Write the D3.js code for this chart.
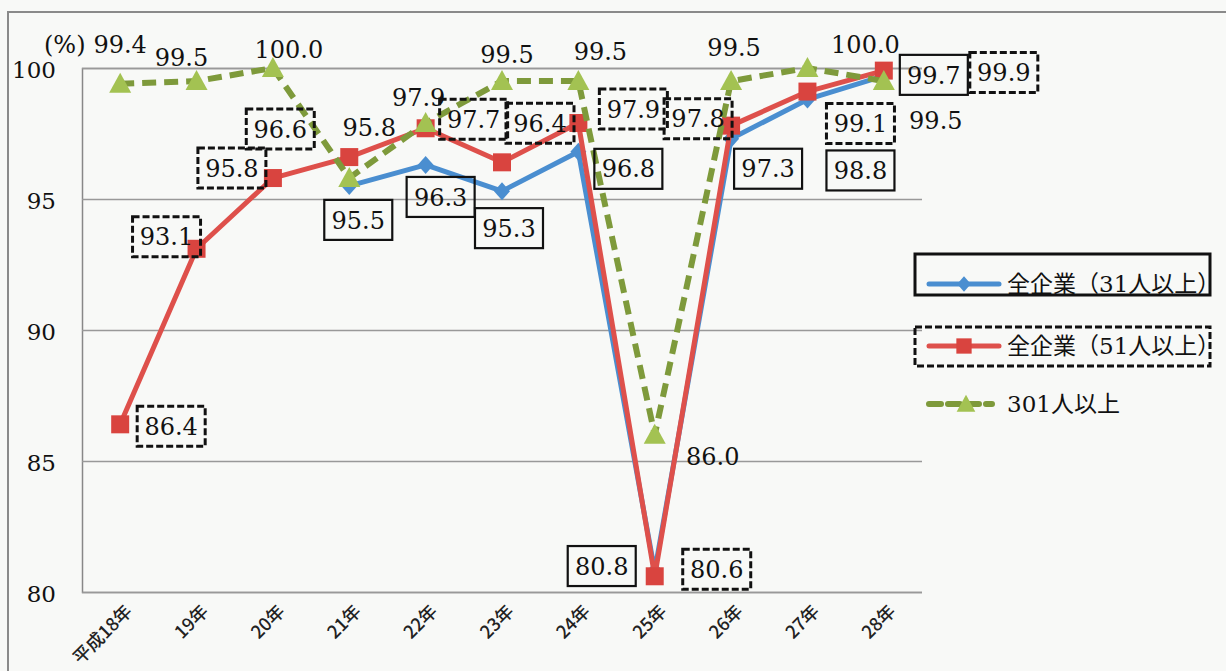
<!DOCTYPE html>
<html><head><meta charset="utf-8">
<script src="https://cdn.jsdelivr.net/npm/d3@7"></script>
<style>body{margin:0;background:#f8f9f7;} svg{display:block}
.sf{font-family:"DejaVu Serif","Liberation Serif",serif;}
.cj{font-family:"DejaVu Serif","Noto Sans CJK JP",serif;}
.xl{font-family:"Noto Sans CJK JP",sans-serif;}
</style>
</head><body><svg id="c" width="1226" height="671"></svg>
<script>
// ---- data ----
const categories = ["平成18年","19年","20年","21年","22年","23年","24年","25年","26年","27年","28年"];
const all31   = [null,null,null,95.5,96.3,95.3,96.8,80.8,97.3,98.8,99.7];
const all51   = [86.4,93.1,95.8,96.6,97.7,96.4,97.9,80.6,97.8,99.1,99.9];
const over301 = [99.4,99.5,100.0,95.8,97.9,99.5,99.5,86.0,99.5,100.0,99.5];
const yTicks = [80,85,90,95,100];
const seriesNames = ["全企業（31人以上）","全企業（51人以上）","301人以上"];
const unitLabel = "(%)";

// label offsets (placement of data labels relative to their points)
const off31  = [null,null,null,[9,34],[15,32],[7,37],[50,17],[-53,-5],[37,30],[53,71],[50,-1]];
const off51  = [[51,2],[-30,-12],[-41,-10],[-69,-28],[48,-9],[38,-39],[55,-14],[62,-7],[-33,-7],[53,32],[120,2]];
const off301 = [[0,-39],[-15,-24],[16,-19],[20,-51],[-7,-26],[5,-27],[22,-30],[58,22],[3,-34],[58,-24],[52,39]];

// ---- setup ----
const svg = d3.select("#c");
const W = 1226, H = 671;
const m = {left:82, right:922, top:68, bottom:592};
const x = d3.scalePoint().domain(categories).range([m.left, m.right]).padding(0.5);
const y = d3.scaleLinear().domain([80,100]).range([m.bottom, m.top]);

svg.append("rect").attr("width",W).attr("height",H).attr("fill","#f8f9f7");
// outer frame
svg.append("path").attr("d",`M8,${H} V12 H${W}`).attr("fill","none").attr("stroke","#8a8a8a").attr("stroke-width",2);

// gridlines
const yAxis = d3.axisLeft(y).tickValues(yTicks).tickSize(-(m.right-m.left)).tickFormat(d3.format("d")).tickPadding(26);
const gy = svg.append("g").attr("transform",`translate(${m.left},0)`).call(yAxis);
gy.attr("font-family",null).attr("font-size",null);
gy.select(".domain").attr("stroke","#888").attr("stroke-width",1.5);
gy.selectAll(".tick line").attr("stroke","#999").attr("stroke-width",1.5);
gy.selectAll(".tick text").attr("class","sf").style("font-size","23px").attr("fill","#111").attr("dy","0.4em");

svg.append("text").attr("class","sf").attr("x",44).attr("y",53).style("font-size","24px").attr("fill","#111").text(unitLabel);

// x labels
const gx = svg.append("g").attr("transform",`translate(0,${m.bottom})`)
  .call(d3.axisBottom(x).tickSize(0).tickPadding(0));
gx.attr("font-family",null).attr("font-size",null);
gx.select(".domain").remove();
gx.selectAll(".tick text")
  .attr("class","xl").style("font-size","18px").attr("font-weight",500)
  .attr("fill","#222").attr("text-anchor","end")
  .attr("transform","translate(8,16) rotate(-45)").attr("y",0).attr("dy","0.35em");

// ---- series ----
const blue = "#4a8ed0", red = "#de504b", redM = "#d9443f", greenL = "#7e9a3b", greenM = "#a3c252";
function pts(arr){ return arr.map((v,i)=>({c:categories[i],v:v,i:i})); }
const line = d3.line().defined(d=>d.v!==null).x(d=>x(d.c)).y(d=>y(d.v));

const diamond = "M0,-9 L8,0 L0,9 L-8,0 Z";
const square = "M-9,-9 H9 V9 H-9 Z";
const tri = "M0,-11 L11,9 L-11,9 Z";

function drawSeries(arr, color, width, dash, markerPath, mcolor){
  const g = svg.append("g");
  g.append("path").datum(pts(arr)).attr("d",line).attr("fill","none")
    .attr("stroke",color).attr("stroke-width",width).attr("stroke-linejoin","round")
    .attr("stroke-dasharray",dash);
  g.selectAll("path.m").data(pts(arr).filter(d=>d.v!==null)).join("path").attr("class","m")
    .attr("d",markerPath).attr("fill",mcolor)
    .attr("transform",d=>`translate(${x(d.c)},${y(d.v)})`);
}
drawSeries(all31, blue, 5, null, diamond, blue);
drawSeries(all51, red, 5, null, square, redM);
drawSeries(over301, greenL, 6, "14,8", tri, greenM);

// ---- data labels ----
function drawLabels(arr, offs, boxStyle){
  const g = svg.append("g");
  pts(arr).filter(d=>d.v!==null).forEach(d=>{
    const o = offs[d.i];
    const cx = x(d.c)+o[0], cy = y(d.v)+o[1];
    if(boxStyle){
      g.append("rect").attr("x",cx-34).attr("y",cy-20).attr("width",68).attr("height",40)
        .attr("fill","none").attr("stroke","#111").attr("stroke-width",boxStyle==="dash"?3:2.2)
        .attr("stroke-dasharray",boxStyle==="dash"?"7,3":null);
    }
    g.append("text").attr("class","sf").attr("x",cx).attr("y",cy).attr("dy","0.36em").attr("text-anchor","middle")
      .style("font-size","24px").attr("fill","#111")
      .text(d3.format(".1f")(d.v));
  });
}
drawLabels(over301, off301, null);
drawLabels(all31, off31, "solid");
drawLabels(all51, off51, "dash");

// ---- legend ----
const defs = svg.append("defs");
defs.append("clipPath").attr("id","lc").append("rect").attr("x",900).attr("y",230).attr("width",308).attr("height",200);
const lg = svg.append("g");
lg.append("rect").attr("x",915).attr("y",254).attr("width",295).attr("height",41)
  .attr("fill","none").attr("stroke","#111").attr("stroke-width",3);
lg.append("rect").attr("x",915).attr("y",327).attr("width",295).attr("height",39)
  .attr("fill","none").attr("stroke","#111").attr("stroke-width",3).attr("stroke-dasharray","7,3");
const legendRows = [
  {name:seriesNames[0], y:284, color:blue, mc:blue, m:diamond, dash:null, w:5, x1:929, x2:999, mx:964},
  {name:seriesNames[1], y:346, color:red, mc:redM, m:square, dash:null, w:5, x1:929, x2:999, mx:964},
  {name:seriesNames[2], y:404, color:greenL, mc:greenM, m:tri, dash:"12,7", w:6, x1:929, x2:992, mx:966}
];
legendRows.forEach(r=>{
  lg.append("line").attr("x1",r.x1).attr("x2",r.x2).attr("y1",r.y).attr("y2",r.y)
    .attr("stroke",r.color).attr("stroke-width",r.w).attr("stroke-linecap","round").attr("stroke-dasharray",r.dash);
  lg.append("path").attr("d",r.m).attr("fill",r.mc).attr("transform",`translate(${r.mx},${r.y}) scale(0.85)`);
  lg.append("text").attr("class","cj").attr("x",1007).attr("y",r.y).attr("dy","0.36em").attr("clip-path","url(#lc)")
    .style("font-size","23px").attr("fill","#111").text(r.name);
});
</script></body></html>
